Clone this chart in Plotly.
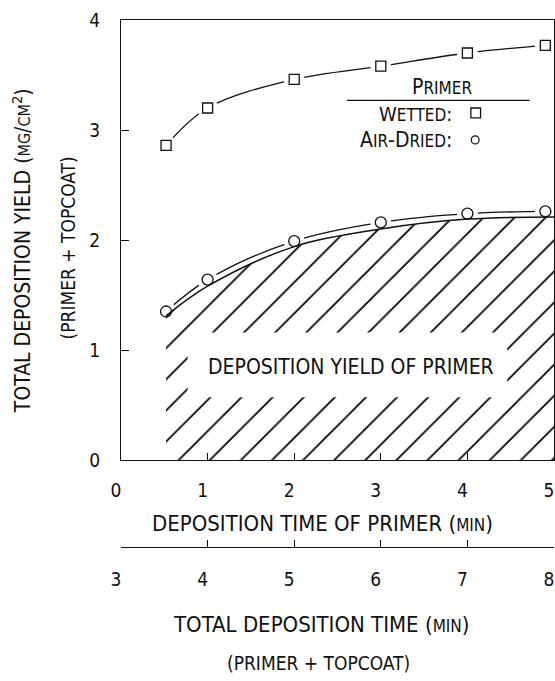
import plotly.graph_objects as go

# ---------------- data ----------------
primer_time = [0.52, 1, 2, 3, 4, 4.9]          # deposition time of primer (min)
wetted_yield = [2.86, 3.20, 3.46, 3.58, 3.70, 3.77]
airdried_yield = [1.35, 1.64, 1.99, 2.16, 2.24, 2.26]
primer_curve_x = [0.52, 1, 2, 3, 4, 5]
primer_curve_y = [1.31, 1.58, 1.94, 2.10, 2.19, 2.21]

x_ticks = [0, 1, 2, 3, 4, 5]
total_ticks = [3, 4, 5, 6, 7, 8]
y_ticks = [0, 1, 2, 3, 4]

FONT = "Liberation Sans Narrow, DejaVu Sans Condensed, Roboto, sans-serif"
INK = "#111111"


def sc(s, small=16):
    return f"<span style='font-size:{small}px'>{s}</span>"


fig = go.Figure()

# connecting smooth curves (drawn first, gaps produced by white halos)
fig.add_trace(go.Scatter(x=primer_time, y=wetted_yield, mode="lines",
                         line=dict(color=INK, width=1.3, shape="spline", smoothing=1.0),
                         hoverinfo="skip", showlegend=False))
fig.add_trace(go.Scatter(x=primer_time, y=airdried_yield, mode="lines",
                         line=dict(color=INK, width=1.3, shape="spline", smoothing=1.0),
                         hoverinfo="skip", showlegend=False))
# white halos around markers
fig.add_trace(go.Scatter(x=primer_time + primer_time, y=wetted_yield + airdried_yield,
                         mode="markers", marker=dict(size=21, color="white", line=dict(width=0)),
                         hoverinfo="skip", showlegend=False))

# hatched primer region
fig.add_trace(go.Scatter(x=primer_curve_x, y=primer_curve_y, mode="lines", fill="tozeroy",
                         line=dict(color=INK, width=1.5, shape="spline", smoothing=1.0),
                         fillcolor="rgba(0,0,0,0)",
                         fillpattern=dict(shape="/", size=22, solidity=0.08, fgopacity=1,
                                          fgcolor="#000000", bgcolor="rgba(0,0,0,0)"),
                         hoverinfo="skip", showlegend=False))

# markers
fig.add_trace(go.Scatter(x=primer_time, y=wetted_yield, mode="markers",
                         marker=dict(symbol="square-open", size=10, color=INK, line=dict(width=1.3)),
                         showlegend=False))
fig.add_trace(go.Scatter(x=primer_time, y=airdried_yield, mode="markers",
                         marker=dict(symbol="circle-open", size=11, color=INK, line=dict(width=1.3)),
                         showlegend=False))

# dummy trace to activate secondary (total time) axis
fig.add_trace(go.Scatter(x=total_ticks, y=[None] * len(total_ticks), xaxis="x2", yaxis="y",
                         mode="markers", hoverinfo="skip", showlegend=False))

# white box for the inner label
fig.add_shape(type="rect", xref="x", yref="y", x0=0.77, x1=4.46, y0=0.57, y1=1.16,
              fillcolor="white", line=dict(width=0), layer="above")

annots = [
    dict(x=2.66, y=0.85, xref="x", yref="y", text="DEPOSITION YIELD OF PRIMER", size=21),
    # legend block
    dict(x=3.71, y=3.39, xref="x", yref="y", text="P" + sc("RIMER", 17), size=21),
    dict(x=3.84, y=3.15, xref="x", yref="y", xanchor="right", text="W" + sc("ETTED", 17) + ":",
         size=20),
    dict(x=3.84, y=2.91, xref="x", yref="y", xanchor="right",
         text="A" + sc("IR", 17) + "-D" + sc("RIED", 17) + ":", size=21),
    # y-axis titles
    dict(x=-0.229, y=0.563, xref="paper", yref="paper", textangle=-90,
         text="TOTAL DEPOSITION YIELD (" + sc("MG") + "/" + sc("CM") + "<sup>2</sup>)", size=21),
    dict(x=-0.123, y=0.568, xref="paper", yref="paper", textangle=-90,
         text="(PRIMER + TOPCOAT)", size=19),
    # x-axis titles
    dict(x=0.4665, y=0.0455, xref="paper", yref="paper",
         text="DEPOSITION TIME OF PRIMER (" + sc("MIN", 17) + ")", size=22),
    dict(x=0.464, y=-0.148, xref="paper", yref="paper",
         text="TOTAL DEPOSITION TIME (" + sc("MIN", 17) + ")", size=22),
    dict(x=0.455, y=-0.22, xref="paper", yref="paper",
         text="(PRIMER + TOPCOAT)", size=19),
]
for a in annots:
    size = a.pop("size")
    a.setdefault("xanchor", "center")
    a["yanchor"] = "middle"
    a["showarrow"] = False
    a["font"] = dict(family=FONT, color=INK, size=size)
    fig.add_annotation(**a)

# legend rule and symbols
fig.add_shape(type="line", xref="x", yref="y", x0=2.61, x1=4.72, y0=3.27, y1=3.27,
              line=dict(color=INK, width=1.2))
fig.add_shape(type="rect", xref="x", yref="y", x0=4.04, x1=4.152, y0=3.11, y1=3.20,
              line=dict(color=INK, width=1.3))
fig.add_shape(type="circle", xref="x", yref="y", x0=4.045, x1=4.135, y0=2.873, y1=2.947,
              line=dict(color=INK, width=1.2))

axis_common = dict(showgrid=False, zeroline=False, showline=True, linecolor=INK, linewidth=1.3,
                   ticks="inside", tickcolor=INK, tickwidth=1.2,
                   tickfont=dict(family=FONT, size=19, color=INK))

fig.update_layout(
    width=555, height=681,
    margin=dict(l=121, r=1, t=20, b=134, pad=0),
    paper_bgcolor="white", plot_bgcolor="white",
    showlegend=False,
    font=dict(family=FONT, color=INK),
    xaxis=dict(range=[0, 5], tickvals=x_ticks, ticklen=7, mirror=True, anchor="y",
               ticklabelstandoff=13, ticklabelshift=-5, **axis_common),
    yaxis=dict(range=[0, 4], tickvals=y_ticks, ticklen=8, mirror=True,
               domain=[87 / 527, 1], ticklabelstandoff=16, **axis_common),
    xaxis2=dict(range=[3, 8], tickvals=total_ticks, ticklen=7, overlaying="x", anchor="free",
                position=0, side="bottom", ticklabelstandoff=15, ticklabelshift=-5,
                **axis_common),
)

# remove the default page margin so the 555x681 figure fills the window exactly
fig.write_html("out.html",
               config={"displayModeBar": False},
               post_script="document.body.style.margin='0';"
                           "document.body.style.overflow='hidden';")
